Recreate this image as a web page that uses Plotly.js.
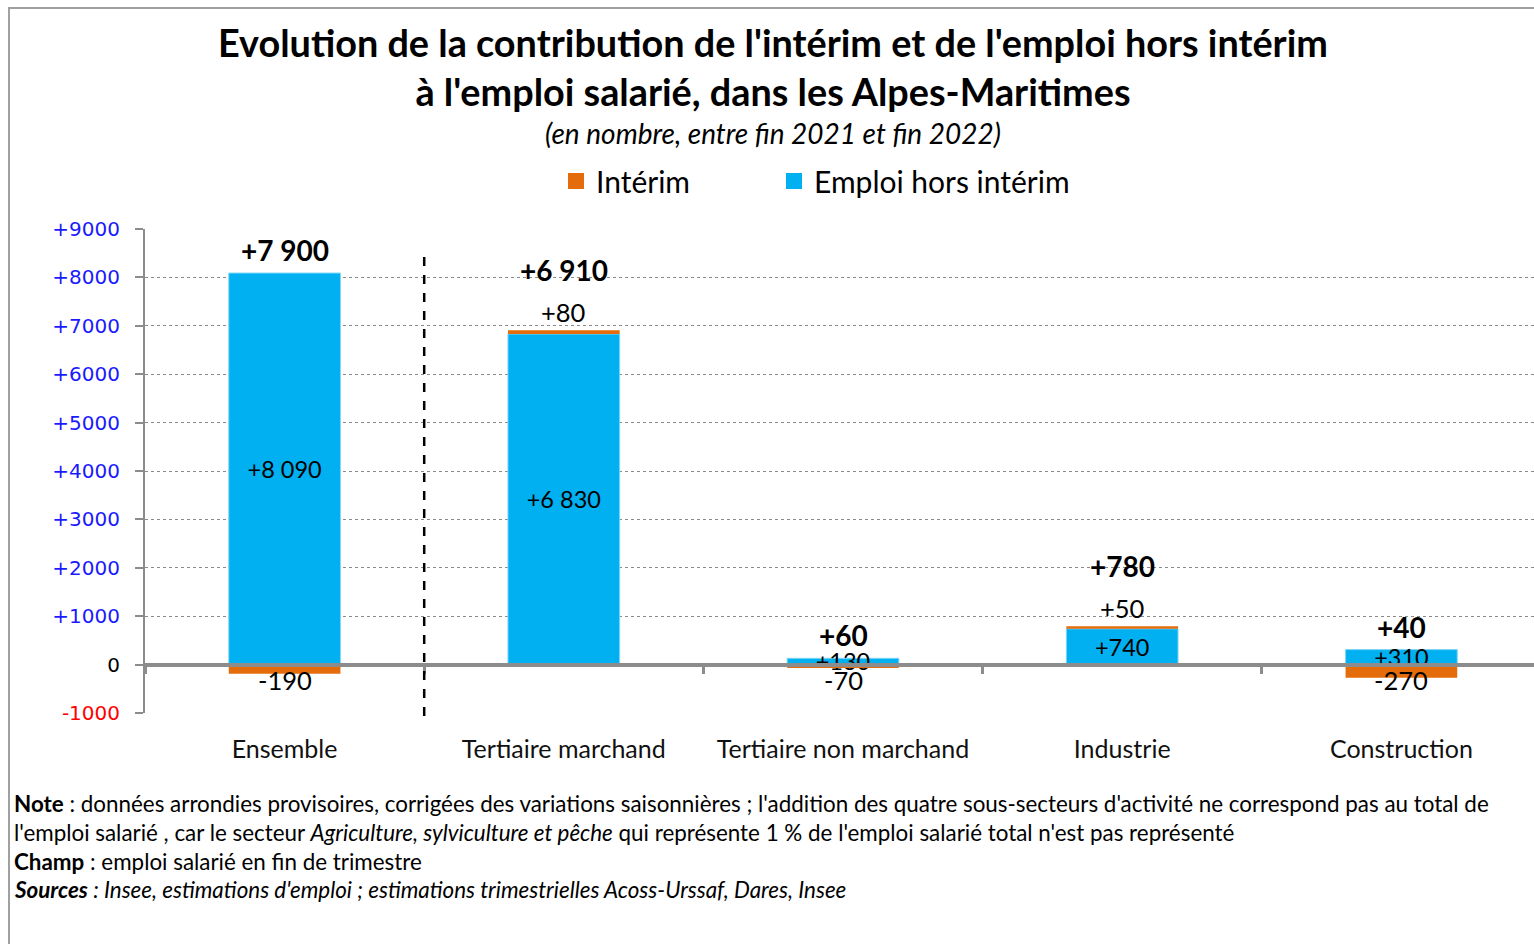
<!DOCTYPE html>
<html>
<head>
<meta charset="utf-8">
<script src="https://cdn.plot.ly/plotly-3.0.1.min.js"></script>
<style>
  html, body { margin: 0; padding: 0; background: #fff; overflow: hidden; }
  #chart { width: 1541px; height: 944px; }
</style>
</head>
<body>
<div id="chart"></div>
<script>
// values (numbers of jobs, end 2021 -> end 2022)
const sectors = ['Ensemble', 'Tertiaire marchand', 'Tertiaire non marchand', 'Industrie', 'Construction']
const horsInterim = [8090, 6830, 130, 740, 310]
const interim = [-190, 80, -70, 50, -270]
const totals = [7900, 6910, 60, 780, 40]
const yTicks = [-1000, 0, 1000, 2000, 3000, 4000, 5000, 6000, 7000, 8000, 9000]

const FONT = 'Lato, "Open Sans", sans-serif'
const BLUE = '#00B0F0'
const ORANGE = '#E46C0A'

// plot area in pixels, used to place the texts that sit outside it
const W = 1541, H = 944
const L = 145, R = W, T = 229, B = 713
const px = x => (x - L) / (R - L)
const py = y => (B - y) / (B - T)

function fmt(v) {
    const s = Math.abs(v).toString().replace(/\B(?=(\d{3})+(?!\d))/g, ' ')
    return (v < 0 ? '-' : '+') + s
}

function tickText(v) {
    if (v === 0) return '<span style="color:#000">0</span>'
    if (v < 0) return '<span style="color:#ff0000">' + v + '</span>'
    return '<span style="color:#1a1aff">+' + v + '</span>'
}

const blueTrace = {
    type: 'bar',
    name: 'Emploi hors intérim',
    x: sectors,
    y: horsInterim,
    marker: {color: BLUE, line: {color: '#7fd6f7', width: 1}},
    text: horsInterim.map(fmt),
    textposition: 'inside',
    insidetextanchor: 'middle',
    constraintext: 'none',
    insidetextfont: {family: FONT, size: 23.5, color: '#000'},
    cliponaxis: false,
    showlegend: false,
    hoverinfo: 'x+y',
}

const orangeTrace = {
    type: 'bar',
    name: 'Intérim',
    x: sectors,
    y: interim,
    marker: {color: ORANGE},
    textposition: 'none',
    cliponaxis: false,
    showlegend: false,
    hoverinfo: 'x+y',
}

// empty traces that only give the legend its larger square keys
const legendKey = (name, color, legend) => ({
    type: 'scatter',
    mode: 'markers',
    name: name,
    x: [sectors[0]],
    y: [null],
    marker: {symbol: 'square', size: 18, color: color},
    legend: legend,
    hoverinfo: 'skip',
})

// hidden trace to carry the axis drawn at zero
const zeroAxisTrace = {
    type: 'scatter',
    x: sectors,
    y: sectors.map(() => null),
    xaxis: 'x2',
    showlegend: false,
    hoverinfo: 'skip',
}

const totalLabels = sectors.map((s, i) => ({
    x: s,
    y: horsInterim[i] + Math.max(interim[i], 0),
    xref: 'x',
    yref: 'y',
    text: '<b>' + fmt(totals[i]) + '</b>',
    showarrow: false,
    yanchor: 'bottom',
    yshift: interim[i] > 0 ? 41 : 4,
    font: {family: FONT, size: 28, color: '#000'},
}))

const interimLabels = sectors.map((s, i) => ({
    x: s,
    y: interim[i] > 0 ? horsInterim[i] + interim[i] : 0,
    xref: 'x',
    yref: 'y',
    text: fmt(interim[i]),
    showarrow: false,
    yanchor: 'middle',
    yshift: interim[i] > 0 ? 18 : -15,
    font: {family: FONT, size: 25.5, color: '#000'},
}))

const noteFont = {family: FONT, size: 22.4, color: '#000'}
const notes = [
    [803, '<b>Note</b> : données arrondies provisoires, corrigées des variations saisonnières ; l\'addition des quatre sous-secteurs d\'activité ne correspond pas au total de'],
    [832, 'l\'emploi salarié , car le secteur <i>Agriculture, sylviculture et pêche</i> qui représente 1 % de l\'emploi salarié total n\'est pas représenté'],
    [861, '<b>Champ</b> : emploi salarié en fin de trimestre'],
    [889, '<b><i>Sources</i></b><i> : Insee, estimations d\'emploi ; estimations trimestrielles Acoss-Urssaf, Dares, Insee</i>'],
].map(([y, t]) => ({
    xref: 'paper', yref: 'paper',
    x: px(12), y: py(y),
    xanchor: 'left', yanchor: 'middle',
    text: t, showarrow: false, align: 'left',
    font: noteFont,
}))

const subtitle = {
    xref: 'paper', yref: 'paper',
    x: px(773), y: py(133),
    xanchor: 'center', yanchor: 'middle',
    text: '<i>(en nombre, entre fin 2021 et fin 2022)</i>',
    showarrow: false,
    font: {family: FONT, size: 28, color: '#000'},
}

const legendStyle = x => ({
    orientation: 'h',
    x: px(x),
    y: py(181),
    xanchor: 'left',
    yanchor: 'middle',
    font: {family: FONT, size: 30, color: '#000'},
    itemwidth: 30,
    bgcolor: 'rgba(0,0,0,0)',
})

const layout = {
    width: W,
    height: H,
    paper_bgcolor: '#fff',
    plot_bgcolor: '#fff',
    font: {family: FONT, color: '#000'},
    margin: {l: L, r: W - R, t: T, b: H - B, pad: 0},
    title: {
        text: '<b>Evolution de la contribution de l\'intérim et de l\'emploi hors intérim<br>à l\'emploi salarié, dans les Alpes-Maritimes</b>',
        font: {family: FONT, size: 37.8, color: '#000'},
        x: 773 / W,
        xanchor: 'center',
        y: 1 - 57 / H,
        yanchor: 'middle',
    },
    barmode: 'relative',
    bargap: 0.6,
    showlegend: true,
    legend: legendStyle(556),
    legend2: legendStyle(774),
    xaxis: {
        type: 'category',
        showline: false,
        showgrid: false,
        ticks: '',
        tickfont: {family: FONT, size: 25, color: '#111'},
        ticklabelstandoff: 19,
        fixedrange: true,
    },
    xaxis2: {
        type: 'category',
        overlaying: 'x',
        matches: 'x',
        anchor: 'free',
        position: 0.1,
        side: 'bottom',
        showline: true,
        linecolor: '#8c8c8c',
        linewidth: 4,
        showgrid: false,
        ticks: 'outside',
        tickson: 'boundaries',
        ticklen: 7,
        tickwidth: 3,
        tickcolor: '#8c8c8c',
        showticklabels: false,
        layer: 'above traces',
    },
    yaxis: {
        range: [-1000, 9000],
        tickvals: yTicks,
        ticktext: yTicks.map(tickText),
        tickfont: {family: '"DejaVu Sans", sans-serif', size: 20},
        showline: true,
        linecolor: '#8c8c8c',
        linewidth: 2,
        ticks: 'outside',
        ticklen: 8,
        tickwidth: 2,
        tickcolor: '#8c8c8c',
        ticklabelstandoff: 11,
        showgrid: true,
        gridcolor: '#8a8a8a',
        gridwidth: 1,
        griddash: 'dot',
        zeroline: false,
        fixedrange: true,
    },
    shapes: [
        // separator between Ensemble and the sectors
        {
            type: 'line', xref: 'x', yref: 'paper',
            x0: 0.5, x1: 0.5, y0: py(716), y1: py(248),
            line: {color: '#000', width: 2.5, dash: 'dash'},
        },
        // chart frame
        {
            type: 'rect', xref: 'paper', yref: 'paper',
            x0: px(9), x1: px(1560), y0: py(960), y1: py(8),
            line: {color: '#a0a0a0', width: 2},
            fillcolor: 'rgba(0,0,0,0)',
            layer: 'below',
        },
    ],
    annotations: [subtitle, ...totalLabels, ...interimLabels, ...notes],
}

const traces = [
    blueTrace,
    orangeTrace,
    legendKey('Intérim', ORANGE, 'legend'),
    legendKey('Emploi hors intérim', BLUE, 'legend2'),
    zeroAxisTrace,
]

Plotly.newPlot('chart', traces, layout, {displayModeBar: false, staticPlot: true})
</script>
</body>
</html>
